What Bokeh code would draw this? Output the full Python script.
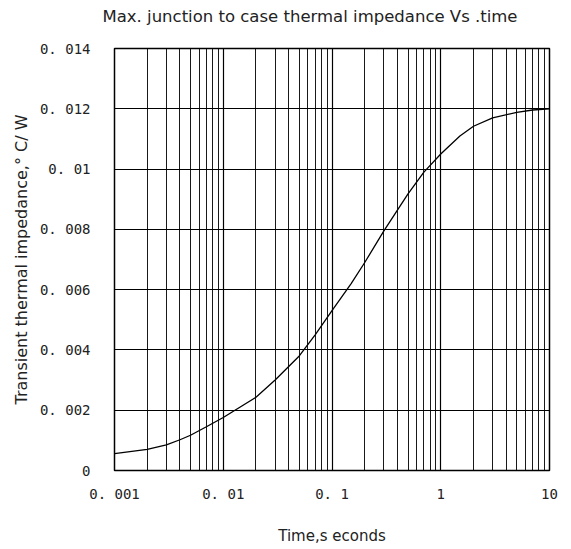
from bokeh.plotting import figure
from bokeh.models import FixedTicker, Range1d, Title
from bokeh.embed import file_html
from bokeh.resources import INLINE

# ---- data ----
time_s = [0.001, 0.002, 0.003, 0.004, 0.005, 0.007, 0.01, 0.02, 0.03, 0.05,
          0.07, 0.1, 0.15, 0.2, 0.3, 0.5, 0.7, 1.0, 1.5, 2.0, 3.0, 5.0, 7.0, 10.0]
zth = [0.00056, 0.00070, 0.00085, 0.00102, 0.00117, 0.00145, 0.00176, 0.00243,
       0.00300, 0.00380, 0.00450, 0.00530, 0.00620, 0.00690, 0.00795, 0.00918,
       0.00990, 0.01050, 0.01110, 0.01142, 0.01170, 0.01188, 0.01196, 0.01200]

x_ticks = [0.001, 0.01, 0.1, 1, 10]
x_tick_labels = ["0. 001", "0. 01", "0. 1", "1", "10"]
x_minor = [m * d for d in [0.001, 0.01, 0.1, 1] for m in range(2, 10)]
y_ticks = [0, 0.002, 0.004, 0.006, 0.008, 0.01, 0.012, 0.014]
y_tick_labels = ["0", "0. 002", "0. 004", "0. 006", "0. 008", "0. 01", "0. 012", "0. 014"]

title_text = "Max. junction to case thermal impedance Vs .time"
x_label = "Time,s econds"
y_label = "Transient thermal impedance,\u00b0 C/ W"

p = figure(width=571, height=549, x_axis_type="log",
           x_range=Range1d(0.001, 10), y_range=Range1d(0, 0.014),
           output_backend="svg", toolbar_location=None,
           min_border_left=114, min_border_right=22,
           min_border_top=48, min_border_bottom=79,
           title_location=None)

# spacer row (closest to the frame), then the real title above it
p.add_layout(Title(text=" ", text_font="DejaVu Sans", text_font_size="16.5px",
                   standoff=0, vertical_align="top"), "above")
p.add_layout(Title(text=title_text, text_font="DejaVu Sans", text_font_size="16.5px",
                   text_font_style="normal", text_color="#222222",
                   align="right", offset=32, standoff=0, vertical_align="top"), "above")

p.background_fill_color = "white"
p.border_fill_color = "white"
p.outline_line_color = "black"
p.outline_line_width = 1.5
p.outline_line_alpha = 1.0

xt = FixedTicker(ticks=x_ticks, minor_ticks=x_minor)
yt = FixedTicker(ticks=y_ticks, minor_ticks=[])
p.xaxis.ticker = xt
p.yaxis.ticker = yt
p.xgrid.ticker = xt
p.ygrid.ticker = yt

p.xaxis.major_label_overrides = {v: s for v, s in zip(x_ticks, x_tick_labels)}
p.yaxis.major_label_overrides = {v: s for v, s in zip(y_ticks, y_tick_labels)}

for g in (p.xgrid, p.ygrid):
    g.grid_line_color = "black"
    g.grid_line_width = 1.2
    g.grid_line_alpha = 1.0
p.xgrid.minor_grid_line_color = "black"
p.xgrid.minor_grid_line_width = 1.0
p.xgrid.minor_grid_line_alpha = 0.9

for ax in (p.xaxis, p.yaxis):
    ax.axis_line_color = None
    ax.major_tick_line_color = None
    ax.minor_tick_line_color = None
    ax.major_tick_out = 0
    ax.major_tick_in = 0
    ax.major_label_text_font = "DejaVu Sans Mono"
    ax.major_label_text_font_size = "14px"
    ax.major_label_text_color = "#222222"
    ax.axis_label_text_font = "DejaVu Sans"
    ax.axis_label_text_font_style = "normal"
    ax.axis_label_text_color = "#222222"

p.xaxis.axis_label = x_label
p.yaxis.axis_label = y_label
p.xaxis.axis_label_text_font_size = "15px"
p.yaxis.axis_label_text_font_size = "16px"
p.xaxis.major_label_standoff = 11
p.yaxis.major_label_standoff = 24
p.xaxis.axis_label_standoff = 22
p.yaxis.axis_label_standoff = 6

p.line(time_s, zth, line_color="black", line_width=1.3)

open("out.html", "w").write(file_html(p, INLINE))
